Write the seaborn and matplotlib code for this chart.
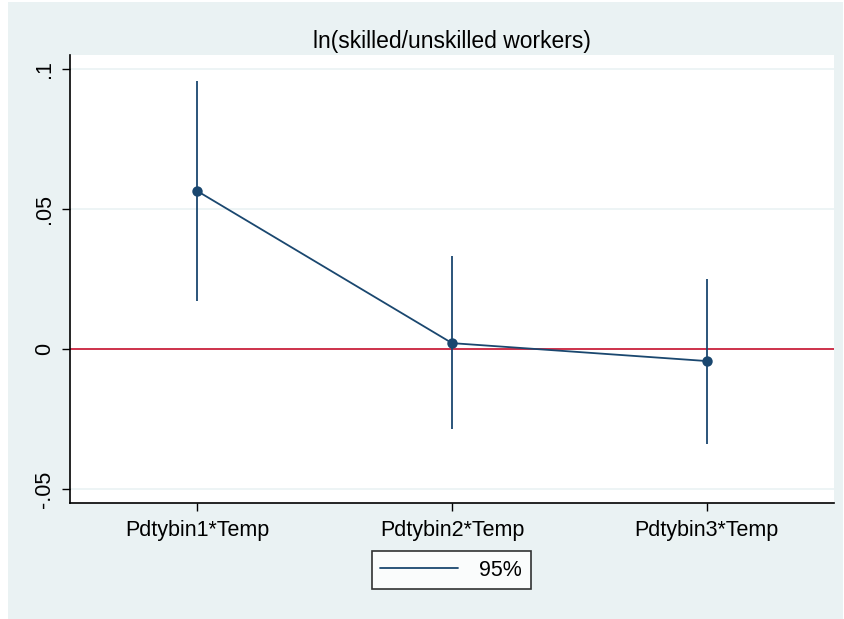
import numpy as np
import pandas as pd
import matplotlib.pyplot as plt
import seaborn as sns
from matplotlib.patches import Rectangle
from matplotlib.lines import Line2D

# coefficient estimates and 95% confidence bounds
terms = ['Pdtybin1*Temp', 'Pdtybin2*Temp', 'Pdtybin3*Temp']
coef = [0.0564, 0.0021, -0.0043]
ci_low = [0.0171, -0.0286, -0.0340]
ci_high = [0.0957, 0.0332, 0.0250]
yticks = [-0.05, 0, 0.05, 0.1]
ytick_labels = ['-.05', '0', '.05', '.1']

df = pd.DataFrame({'pos': np.arange(1, len(terms) + 1), 'coef': coef,
                   'lo': ci_low, 'hi': ci_high})

navy = '#1a476f'
bg = '#eaf2f3'

sns.set_theme(style='white')
plt.rcParams['font.family'] = ['Liberation Sans', 'DejaVu Sans']
plt.rcParams['text.color'] = 'black'
plt.rcParams['xtick.color'] = 'black'
plt.rcParams['ytick.color'] = 'black'

fig = plt.figure(figsize=(8.44, 6.19), dpi=100)
fig.patch.set_facecolor('white')
# stata-like outer region
fig.patches.append(Rectangle((8 / 844, 0), (843 - 8) / 844, (619 - 2) / 619,
                             transform=fig.transFigure, facecolor=bg,
                             edgecolor='none', zorder=-10))
ax = fig.add_axes([70 / 844, (619 - 503) / 619, (834 - 70) / 844, (503 - 55) / 619])
ax.set_facecolor('white')

for y in yticks:
    ax.axhline(y, color=bg, lw=1.2, zorder=0)
ax.axhline(0, color='#c8102e', lw=1.2, zorder=1)

ax.vlines(df['pos'], df['lo'], df['hi'], color=navy, lw=1.3, zorder=2)
sns.lineplot(data=df, x='pos', y='coef', ax=ax, color=navy, lw=1.3,
             marker='o', markersize=7.5, markeredgewidth=0, zorder=3)

ax.set_xlim(0.5, 3.5)
ax.set_ylim(-0.055, 0.105)
ax.set_xticks(df['pos'])
ax.set_xticklabels(terms, fontsize=15.5)
ax.set_yticks(yticks)
ax.set_yticklabels(ytick_labels, fontsize=15.5, rotation=90, va='center')
ax.tick_params(axis='x', direction='out', length=6, width=1, color='black',
               bottom=True, pad=6)
ax.tick_params(axis='y', direction='out', length=6, width=1, color='black',
               left=True, pad=5)
ax.set_xlabel('')
ax.set_ylabel('')
for side in ['top', 'right']:
    ax.spines[side].set_visible(False)
for side in ['left', 'bottom']:
    ax.spines[side].set_color('black')
    ax.spines[side].set_linewidth(1.2)

ax.set_title('ln(skilled/unskilled workers)', fontsize=16.5, pad=5)

handle = Line2D([], [], color=navy, lw=1.3)
leg = fig.legend([handle], ['95%'], loc='center', bbox_to_anchor=(451 / 844, 1 - 570 / 619),
                 fontsize=15.5, frameon=True, fancybox=False, handlelength=3.6,
                 borderpad=0.4, handletextpad=1.0)
leg.get_frame().set_edgecolor('black')
leg.get_frame().set_facecolor('white')
leg.get_frame().set_linewidth(1.2)

fig.savefig('out.png', dpi=100, facecolor=fig.get_facecolor())
